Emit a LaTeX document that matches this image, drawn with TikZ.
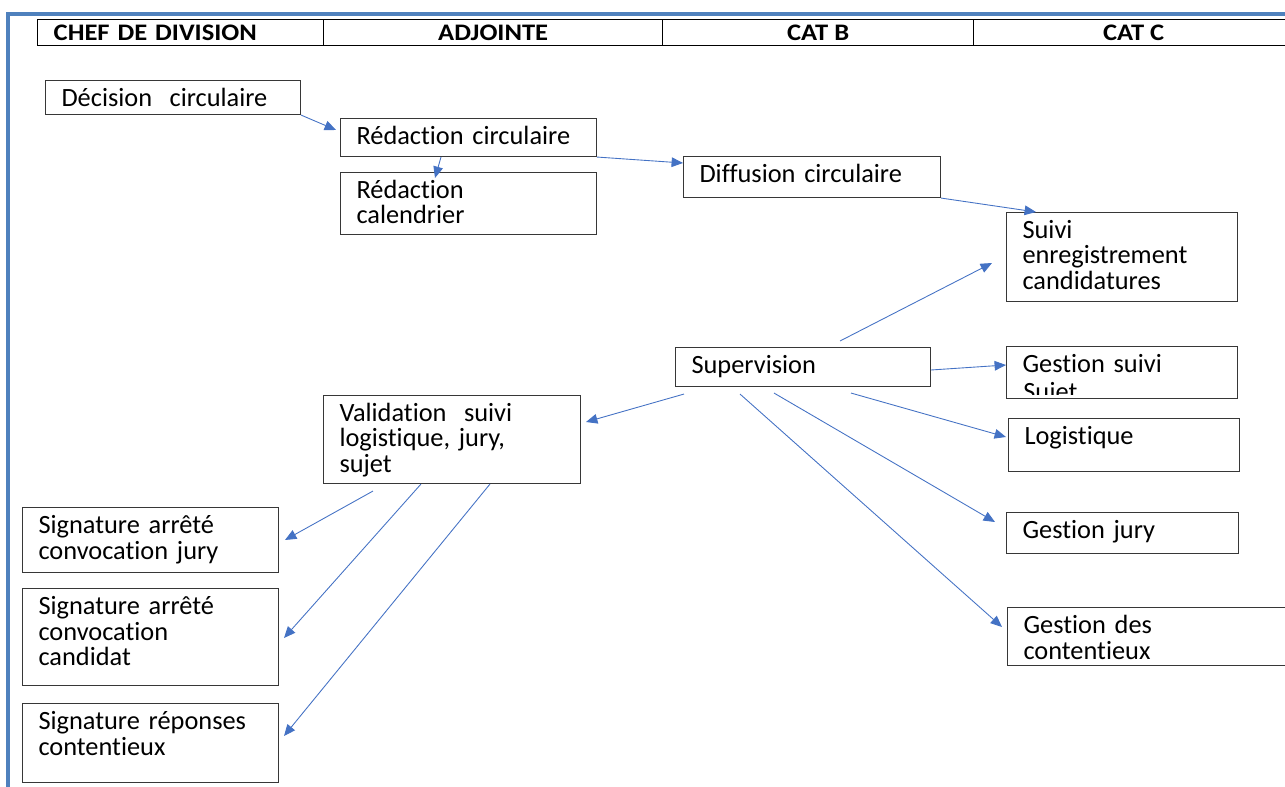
\documentclass[tikz,border=0pt]{standalone}
\usepackage{fontspec}
\setmainfont{Carlito}[Ligatures=NoCommon]
\newfontfamily\headfont[FakeStretch=1.12,Ligatures=NoCommon]{Carlito}
\usetikzlibrary{arrows.meta,calc}
\definecolor{frameblue}{RGB}{79,129,189}
\definecolor{linkblue}{RGB}{68,114,196}
\definecolor{boxgrey}{RGB}{55,55,55}
\lineskiplimit=-10pt

\begin{document}
\begin{tikzpicture}[x=0.02cm,y=-0.02cm,
  box/.style={draw=boxgrey, line width=0.6pt, anchor=north west, align=left,
    inner xsep=0.32cm, inner ysep=0pt, text height=0.52cm,
    font=\fontsize{15}{14.5}\selectfont},
  hdr/.style={draw, line width=0.8pt, anchor=north west, minimum height=0.52cm,
    inner ysep=0pt, font=\headfont\bfseries\fontsize{13.5}{13.5}\selectfont},
  link/.style={draw=linkblue, line width=0.5pt, -{Triangle[length=6.5pt,width=5.5pt]}}]
\useasboundingbox (0,0) rectangle (1285,787);
\draw[frameblue, line width=2.2pt] (8,800) -- (8,14) -- (1300,14);

\node[hdr, text width=5.08cm, align=left, inner xsep=0.32cm] (hchef) at (37,19) {CHEF DE DIVISION};
\node[hdr, minimum width=6.78cm] (hadj) at (323,19) {ADJOINTE};
\node[hdr, minimum width=6.22cm] (hcatb) at (662,19) {CAT B};
\node[hdr, minimum width=6.4cm] (hcatc) at (973,19) {CAT C};

\node[box, text width=4.46cm, text depth=0.16cm] (dec) at (45,80) {Décision\ \ circulaire};
\node[box, text width=4.48cm, text depth=0.24cm] (redcirc) at (340,118) {Rédaction circulaire};
\node[box, text width=4.48cm, text depth=0.72cm] (redcal) at (340,172) {Rédaction\\calendrier};
\node[box, text width=4.50cm, text depth=0.30cm] (diffcirc) at (683,156) {Diffusion circulaire};
\node[box, text width=3.98cm, text depth=1.26cm] (suivienr) at (1006,212) {Suivi\\enregistrement\\candidatures};
\node[box, text width=4.46cm, text depth=0.26cm] (superv) at (675,347) {Supervision};
\node[box, text width=3.98cm, text depth=0.52cm] (gsuivi) at (1006,346) {Gestion suivi};
\begin{scope}
\clip (gsuivi.north west) rectangle ($(gsuivi.south east)+(0,-5)$);
\node[anchor=base west, inner sep=0pt, font=\fontsize{15}{14.5}\selectfont] (gsujet) at ($(gsuivi.north west)+(17,54)$) {Sujet};
\end{scope}
\node[box, text width=3.98cm, text depth=0.54cm] (logist) at (1008,418) {Logistique};
\node[box, text width=4.00cm, text depth=0.30cm] (gjury) at (1006,512) {Gestion jury};
\node[box, text width=5.36cm, text depth=0.64cm] (gcont) at (1007,607) {Gestion des\\contentieux};
\node[box, text width=4.50cm, text depth=1.24cm] (valid) at (323,395) {Validation\ \ suivi\\logistique, jury,\\sujet};
\node[box, text width=4.48cm, text depth=0.78cm] (sigjury) at (22,507) {Signature arrêté\\convocation jury};
\node[box, text width=4.48cm, text depth=1.42cm] (sigcand) at (22,588) {Signature arrêté\\convocation\\candidat};
\node[box, text width=4.48cm, text depth=1.06cm] (sigrep) at (22,703) {Signature réponses\\contentieux};

\draw[link] (dec.south east) -- ($(redcirc.north west)+(-4,12)$);
\draw[link] ($(redcirc.south west)+(101,0)$) -- ($(redcal.north west)+(95,6)$);
\draw[link] (redcirc.south east) -- ($(diffcirc.north west)+(0,7)$);
\draw[link] (diffcirc.south east) -- ($(suivienr.north west)+(30,0)$);
\draw[link] ($(superv.north west)+(165,-6)$) -- ($(suivienr.north west)+(-14,51)$);
\draw[link] ($(superv.north east)+(0,23)$) -- ($(gsuivi.north west)+(0,19)$);
\draw[link] ($(superv.south west)+(176,6)$) -- ($(logist.north west)+(-2,19)$);
\draw[link] ($(superv.south west)+(99,6)$) -- ($(gjury.north west)+(-11,10)$);
\draw[link] ($(superv.south west)+(65,7)$) -- ($(gcont.north west)+(-5,20)$);
\draw[link] ($(superv.south west)+(9,7)$) -- ($(valid.north east)+(5,27)$);
\draw[link] ($(valid.south west)+(50,7)$) -- ($(sigjury.north east)+(6,33)$);
\draw[link] ($(valid.south west)+(98,0)$) -- ($(sigcand.north east)+(5,50)$);
\draw[link] ($(valid.south west)+(167,0)$) -- ($(sigrep.north east)+(5,33)$);
\end{tikzpicture}
\end{document}
